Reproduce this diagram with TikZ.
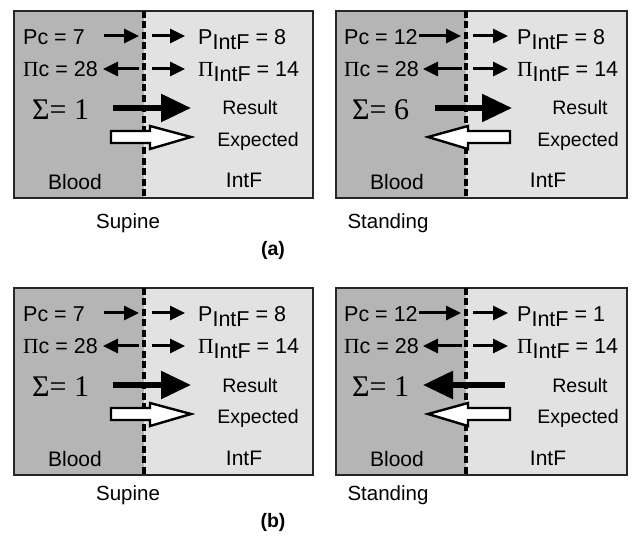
\documentclass[tikz,border=0pt]{standalone}
\usepackage{fontspec}
\setmainfont{Liberation Sans}
\newfontfamily\grserif{Liberation Serif}
\usetikzlibrary{arrows.meta}
\definecolor{bloodgray}{gray}{0.71}
\definecolor{intfgray}{gray}{0.885}
\newcommand\subIntF{\raisebox{-5pt}{\fontsize{21.5}{21.5}\selectfont IntF}}
\tikzset{
  txt/.style={font=\fontsize{21.5}{21.5}\selectfont, inner sep=0pt, anchor=base west},
  lbl/.style={font=\fontsize{19.5}{19.5}\selectfont, inner sep=0pt, anchor=base},
  reg/.style={font=\fontsize{21}{21}\selectfont, inner sep=0pt, anchor=base},
  sig/.style={font=\grserif\fontsize{30}{30}\selectfont, inner sep=0pt, anchor=base west},
  captext/.style={font=\fontsize{20.5}{20.5}\selectfont, inner sep=0pt, anchor=base},
  thinarrow/.style={line width=3pt, -{Triangle[length=15pt,width=14pt]}},
  resultarrow/.style={line width=5.5pt, -{Triangle[length=30pt,width=27pt]}},
  openarrow/.style={draw=black, line width=2.4pt, fill=white, line join=miter},
  membrane/.style={line width=3.4pt, dash pattern=on 7pt off 3.5pt},
  frame/.style={draw=black!85, line width=1.8pt},
}
\begin{document}
\begin{tikzpicture}[x=1pt,y=-1pt]
\useasboundingbox (0,0) rectangle (635,545);
\fill[white] (0,0) rectangle (635,545);
% ================= (a) left: Supine =================
\begin{scope}
\fill[bloodgray] (14,11) rectangle (144,198);
\fill[intfgray] (144,11) rectangle (313,198);
\draw[frame] (14,11) rectangle (313,198);
\draw[membrane] (144,11) -- (144,200);
\node[txt] (aLpc) at (23,44.5) {Pc = 7};
\node[txt] (aLpi) at (198,44.5) {P\subIntF{} = 8};
\node[txt] (aLpic) at (23,77) {{\grserif Π}c = 28};
\node[txt] (aLpii) at (198,77) {{\grserif Π}\subIntF{} = 14};
\node[sig] (aLsig) at (32,120) {Σ= 1};
\node[lbl] (aLres) at (250,115) {Result};
\node[lbl] (aLexp) at (258,147) {Expected};
\node[reg] (aLblood) at (75,190) {Blood};
\node[reg] (aLintf) at (244,188) {IntF};
\coordinate (aL1a) at (104,36); \coordinate (aL1b) at (139,36);
\coordinate (aL1c) at (152,36); \coordinate (aL1d) at (185,36);
\coordinate (aL2a) at (103,69); \coordinate (aL2b) at (139,69);
\coordinate (aL2c) at (152,69); \coordinate (aL2d) at (185,69);
\coordinate (aLra) at (113,108); \coordinate (aLrb) at (191,108);
\draw[thinarrow] (aL1a) -- (aL1b);
\draw[thinarrow] (aL1c) -- (aL1d);
\draw[thinarrow] (aL2b) -- (aL2a);
\draw[thinarrow] (aL2c) -- (aL2d);
\draw[resultarrow] (aLra) -- (aLrb);
\draw[openarrow] (111,131) -- (150,131) -- (150,126) -- (191,137) -- (150,149) -- (150,143) -- (111,143) -- cycle;
\node[captext] (aLcap) at (128,229) {Supine};
\end{scope}
% ================= (a) right: Standing =================
\begin{scope}
\fill[bloodgray] (336,11) rectangle (466,198);
\fill[intfgray] (466,11) rectangle (627,198);
\draw[frame] (336,11) rectangle (627,198);
\draw[membrane] (466,11) -- (466,200);
\node[txt] (aRpc) at (344,44.5) {Pc = 12};
\node[txt] (aRpi) at (517,44.5) {P\subIntF{} = 8};
\node[txt] (aRpic) at (344,77) {{\grserif Π}c = 28};
\node[txt] (aRpii) at (517,77) {{\grserif Π}\subIntF{} = 14};
\node[sig] (aRsig) at (352,120) {Σ= 6};
\node[lbl] (aRres) at (580,115) {Result};
\node[lbl] (aRexp) at (578,147) {Expected};
\node[reg] (aRblood) at (397,190) {Blood};
\node[reg] (aRintf) at (548,188) {IntF};
\coordinate (aR1a) at (419,36); \coordinate (aR1b) at (461,36);
\coordinate (aR1c) at (473,36); \coordinate (aR1d) at (508,36);
\coordinate (aR2a) at (423,69); \coordinate (aR2b) at (462,69);
\coordinate (aR2c) at (473,69); \coordinate (aR2d) at (508,69);
\coordinate (aRra) at (435,108); \coordinate (aRrb) at (512,108);
\draw[thinarrow] (aR1a) -- (aR1b);
\draw[thinarrow] (aR1c) -- (aR1d);
\draw[thinarrow] (aR2b) -- (aR2a);
\draw[thinarrow] (aR2c) -- (aR2d);
\draw[resultarrow] (aRra) -- (aRrb);
\draw[openarrow] (510,131) -- (468,131) -- (468,126) -- (428,137) -- (468,149) -- (468,143) -- (510,143) -- cycle;
\node[captext] (aRcap) at (388,229) {Standing};
\end{scope}
\node[captext, font=\bfseries\fontsize{19.5}{19.5}\selectfont] (capA) at (273,256) {(a)};
% ================= (b) =================
\begin{scope}[shift={(0,277)}]
\fill[bloodgray] (14,11) rectangle (144,198);
\fill[intfgray] (144,11) rectangle (313,198);
\draw[frame] (14,11) rectangle (313,198);
\draw[membrane] (144,11) -- (144,200);
\node[txt] (bLpc) at (23,44.5) {Pc = 7};
\node[txt] (bLpi) at (198,44.5) {P\subIntF{} = 8};
\node[txt] (bLpic) at (23,77) {{\grserif Π}c = 28};
\node[txt] (bLpii) at (198,77) {{\grserif Π}\subIntF{} = 14};
\node[sig] (bLsig) at (32,120) {Σ= 1};
\node[lbl] (bLres) at (250,115) {Result};
\node[lbl] (bLexp) at (258,147) {Expected};
\node[reg] (bLblood) at (75,190) {Blood};
\node[reg] (bLintf) at (244,188) {IntF};
\coordinate (bL1a) at (104,36); \coordinate (bL1b) at (139,36);
\coordinate (bL1c) at (152,36); \coordinate (bL1d) at (185,36);
\coordinate (bL2a) at (103,69); \coordinate (bL2b) at (139,69);
\coordinate (bL2c) at (152,69); \coordinate (bL2d) at (185,69);
\coordinate (bLra) at (113,108); \coordinate (bLrb) at (191,108);
\draw[thinarrow] (bL1a) -- (bL1b);
\draw[thinarrow] (bL1c) -- (bL1d);
\draw[thinarrow] (bL2b) -- (bL2a);
\draw[thinarrow] (bL2c) -- (bL2d);
\draw[resultarrow] (bLra) -- (bLrb);
\draw[openarrow] (111,131) -- (150,131) -- (150,126) -- (191,137) -- (150,149) -- (150,143) -- (111,143) -- cycle;
\node[captext] (bLcap) at (128,223) {Supine};
\end{scope}
\begin{scope}[shift={(0,277)}]
\fill[bloodgray] (336,11) rectangle (466,198);
\fill[intfgray] (466,11) rectangle (627,198);
\draw[frame] (336,11) rectangle (627,198);
\draw[membrane] (466,11) -- (466,200);
\node[txt] (bRpc) at (344,44.5) {Pc = 12};
\node[txt] (bRpi) at (517,44.5) {P\subIntF{} = 1};
\node[txt] (bRpic) at (344,77) {{\grserif Π}c = 28};
\node[txt] (bRpii) at (517,77) {{\grserif Π}\subIntF{} = 14};
\node[sig] (bRsig) at (352,120) {Σ= 1};
\node[lbl] (bRres) at (580,115) {Result};
\node[lbl] (bRexp) at (578,147) {Expected};
\node[reg] (bRblood) at (397,190) {Blood};
\node[reg] (bRintf) at (548,188) {IntF};
\coordinate (bR1a) at (419,36); \coordinate (bR1b) at (461,36);
\coordinate (bR1c) at (473,36); \coordinate (bR1d) at (508,36);
\coordinate (bR2a) at (423,69); \coordinate (bR2b) at (462,69);
\coordinate (bR2c) at (473,69); \coordinate (bR2d) at (508,69);
\coordinate (bRra) at (505,108); \coordinate (bRrb) at (423,108);
\draw[thinarrow] (bR1a) -- (bR1b);
\draw[thinarrow] (bR1c) -- (bR1d);
\draw[thinarrow] (bR2b) -- (bR2a);
\draw[thinarrow] (bR2c) -- (bR2d);
\draw[resultarrow] (bRra) -- (bRrb);
\draw[openarrow] (510,131) -- (468,131) -- (468,126) -- (428,137) -- (468,149) -- (468,143) -- (510,143) -- cycle;
\node[captext] (bRcap) at (388,223) {Standing};
\end{scope}
\node[captext, font=\bfseries\fontsize{19.5}{19.5}\selectfont] (capB) at (273,527) {(b)};
\end{tikzpicture}
\end{document}
